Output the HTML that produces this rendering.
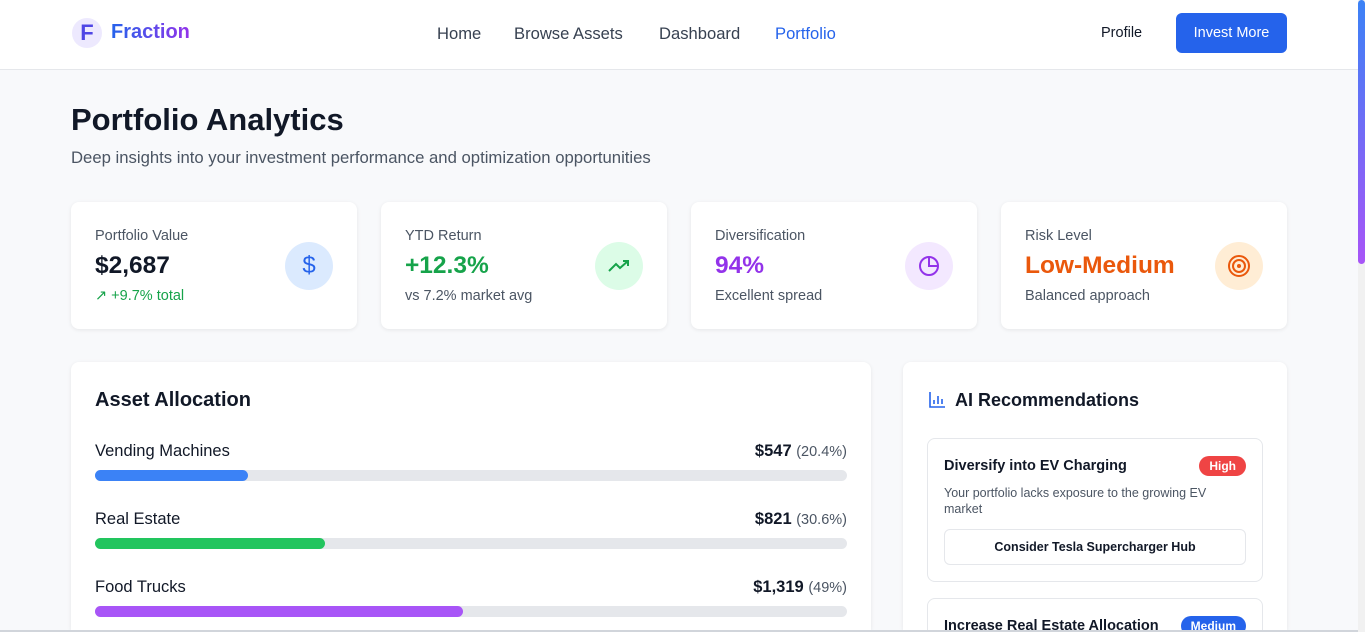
<!DOCTYPE html>
<html style="width:1365px;height:632px;overflow:hidden"><head><meta charset="utf-8">
<style>
*{box-sizing:border-box;margin:0;padding:0}
body{width:1365px;height:632px;overflow:hidden;background:#f8f9fb;font-family:"Liberation Sans",sans-serif;color:#111827;position:relative}
.nav{position:absolute;left:0;top:0;width:1358px;height:70px;background:#fff;border-bottom:1px solid #e5e7eb}
.logo{position:absolute;left:72px;top:18px;width:30px;height:30px;border-radius:50%;background:#ede9fe;color:#4f46e5;font-weight:bold;font-size:22px;text-align:center;line-height:30px}
.brand{position:absolute;left:111px;top:21px;font-size:20px;font-weight:bold;background:linear-gradient(90deg,#2563eb,#9333ea);-webkit-background-clip:text;color:transparent}
.nl{position:absolute;top:24px;font-size:16.6px;color:#374151}
.btn{position:absolute;left:1176px;top:13px;width:111px;height:40px;background:#2563eb;color:#fff;border-radius:6px;font-size:14.5px;text-align:center;line-height:40px}
h1{position:absolute;left:71px;top:102px;font-size:31px;font-weight:bold}
.sub{position:absolute;left:71px;top:148px;font-size:16.7px;color:#4b5563}
.card{position:absolute;top:202px;width:286px;height:127px;background:#fff;border-radius:8px;box-shadow:0 1px 4px rgba(0,0,0,.08)}
.cl{position:absolute;left:24px;top:26px;font-size:14.5px;color:#4b5563}
.cv{position:absolute;left:24px;top:50px;font-size:24.5px;font-weight:bold}
.cs{position:absolute;left:24px;top:86px;font-size:14.5px;color:#4b5563}
.ic{position:absolute;left:214px;top:40px;width:48px;height:48px;border-radius:50%}
.panel{position:absolute;top:362px;background:#fff;border-radius:8px 8px 0 0;box-shadow:0 1px 4px rgba(0,0,0,.08);height:268px;overflow:hidden}
.row{position:absolute;left:24px;width:752px}
.rn{position:absolute;left:0;top:0;font-size:16.5px}
.rv{position:absolute;right:0;top:0;font-size:16.5px;font-weight:bold}
.rv span{font-weight:normal;color:#4b5563;font-size:14.5px}
.tr{position:absolute;left:0;top:28px;width:752px;height:11px;border-radius:6px;background:#e5e7eb}
.fl{position:absolute;left:0;top:0;height:11px;border-radius:6px}
.rec{position:absolute;left:24px;width:336px;border:1px solid #e5e7eb;border-radius:8px;background:#fff}
</style></head><body>
<div class="nav">
<div class="logo">F</div>
<div class="brand">Fraction</div>
<div class="nl" style="left:437px">Home</div>
<div class="nl" style="left:514px">Browse Assets</div>
<div class="nl" style="left:659px">Dashboard</div>
<div class="nl" style="left:775px;color:#2563eb">Portfolio</div>
<div class="nl" style="left:1101px;font-size:14.5px;top:25px;color:#111827">Profile</div>
<div class="btn">Invest More</div>
</div>
<h1>Portfolio Analytics</h1>
<div class="sub">Deep insights into your investment performance and optimization opportunities</div>

<div class="card" style="left:71px">
<div class="cl">Portfolio Value</div><div class="cv">$2,687</div><div class="cs" style="color:#16a34a">↗ +9.7% total</div>
<div class="ic" style="background:#dbeafe;color:#2563eb;font-size:24px;text-align:center;line-height:48px">$</div></div>
<div class="card" style="left:381px">
<div class="cl">YTD Return</div><div class="cv" style="color:#16a34a">+12.3%</div><div class="cs">vs 7.2% market avg</div>
<div class="ic" style="background:#dcfce7"><svg width="48" height="48"><polyline points="14,29 21,22 25,26 33,19" fill="none" stroke="#16a34a" stroke-width="2"/><polyline points="28,19 33,19 33,24" fill="none" stroke="#16a34a" stroke-width="2"/></svg></div></div>
<div class="card" style="left:691px">
<div class="cl">Diversification</div><div class="cv" style="color:#9333ea">94%</div><div class="cs">Excellent spread</div>
<div class="ic" style="background:#f3e8ff"><svg width="48" height="48"><circle cx="24" cy="24" r="9" fill="none" stroke="#9333ea" stroke-width="2"/><path d="M24 15 V24 H33" fill="none" stroke="#9333ea" stroke-width="2"/></svg></div></div>
<div class="card" style="left:1001px">
<div class="cl">Risk Level</div><div class="cv" style="color:#ea580c">Low-Medium</div><div class="cs">Balanced approach</div>
<div class="ic" style="background:#ffedd5"><svg width="48" height="48"><circle cx="24" cy="24" r="10" fill="none" stroke="#ea580c" stroke-width="2"/><circle cx="24" cy="24" r="6" fill="none" stroke="#ea580c" stroke-width="2"/><circle cx="24" cy="24" r="2" fill="#ea580c"/></svg></div></div>

<div class="panel" style="left:71px;width:800px">
<div style="position:absolute;left:24px;top:27px;font-size:20px;font-weight:bold">Asset Allocation</div>
<div id="rows"></div>
</div>

<div class="panel" style="left:903px;width:384px">
<svg style="position:absolute;left:25px;top:29px" width="18" height="18"><path d="M2 1V16H17" fill="none" stroke="#2563eb" stroke-width="1.6"/><path d="M6 13V9M10 13V5M14 13V8" stroke="#2563eb" stroke-width="1.6"/></svg>
<div style="position:absolute;left:52px;top:28px;font-size:18px;font-weight:bold">AI Recommendations</div>
<div class="rec" style="top:76px;height:144px">
<div style="position:absolute;left:16px;top:19px;font-size:14.5px;font-weight:bold">Diversify into EV Charging</div>
<div style="position:absolute;right:16px;top:17px;background:#ef4444;color:#fff;font-size:12px;font-weight:bold;border-radius:10px;padding:3px 10px">High</div>
<div style="position:absolute;left:16px;top:46px;width:285px;font-size:12.5px;line-height:16px;color:#4b5563">Your portfolio lacks exposure to the growing EV market</div>
<div style="position:absolute;left:16px;top:90px;width:302px;height:36px;border:1px solid #e5e7eb;border-radius:6px;text-align:center;line-height:34px;font-size:12.5px;font-weight:bold">Consider Tesla Supercharger Hub</div>
</div>
<div class="rec" style="top:236px;height:40px">
<div style="position:absolute;left:16px;top:19px;font-size:14.5px;font-weight:bold">Increase Real Estate Allocation</div>
<div style="position:absolute;right:16px;top:17px;background:#2563eb;color:#fff;font-size:12px;font-weight:bold;border-radius:10px;padding:3px 10px">Medium</div>
</div>
</div>

<div style="position:absolute;left:1358px;top:0;width:7px;height:632px;background:#f1f1f1"><div style="position:absolute;left:0;top:0;width:7px;height:264px;border-radius:4px;background:linear-gradient(#3b82f6,#a855f7)"></div></div>
<div style="position:absolute;left:0;top:630px;width:1358px;height:2px;background:#d1d5db"></div>

<script>
const assetNames=["Vending Machines","Real Estate","Food Trucks"];
const assetValues=["$547","$821","$1,319"];
const assetPercents=[20.4,30.6,49];
const assetColors=["#3b82f6","#22c55e","#a855f7"];
const rows=document.getElementById('rows');
assetNames.forEach((n,i)=>{
const r=document.createElement('div');
r.className='row';r.style.top=(80+i*68)+'px';


r.innerHTML='<div class="rn">'+n+'</div><div class="rv">'+assetValues[i]+' <span>('+assetPercents[i]+'%)</span></div>';
const t=document.createElement('div');t.className='tr';


const f=document.createElement('div');f.className='fl';


f.style.width=(assetPercents[i]/100*752)+'px';f.style.background=assetColors[i];
t.appendChild(f);r.appendChild(t);rows.appendChild(r);
});
</script>
</body></html>
